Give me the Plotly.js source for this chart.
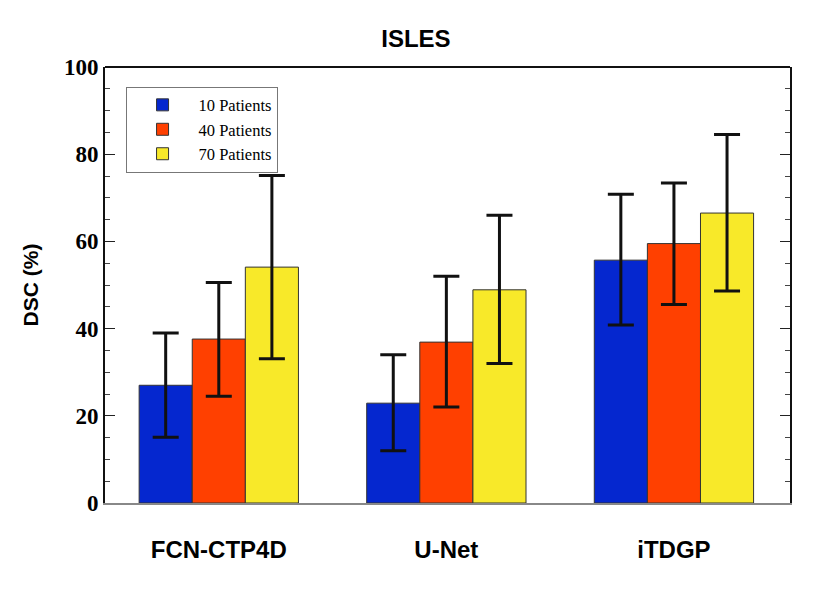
<!DOCTYPE html>
<html>
<head>
<meta charset="utf-8">
<script src="https://cdn.plot.ly/plotly-3.0.1.min.js"></script>
<style>
  body { margin: 0; background: #fff; }
  #chart { width: 814px; height: 589px; }
</style>
</head>
<body>
<div id="chart"></div>
<script>
let methods = ["FCN-CTP4D", "U-Net", "iTDGP"];
let series_names = ["10 Patients", "40 Patients", "70 Patients"];
let series_colors = ["#0527cf", "#ff4000", "#f8e929"];

// mean DSC and error bar ends (upper, lower) per method
let dsc_10 = [27.0, 22.9, 55.7];
let dsc_40 = [37.6, 36.9, 59.5];
let dsc_70 = [54.1, 48.9, 66.5];
let upper_10 = [39.0, 34.0, 70.8];
let upper_40 = [50.6, 52.0, 73.4];
let upper_70 = [75.1, 66.0, 84.5];
let lower_10 = [15.1, 12.0, 40.8];
let lower_40 = [24.5, 22.0, 45.5];
let lower_70 = [33.1, 32.0, 48.6];

function makeTrace(name, color, y, up, low) {
    let plus = [], minus = [];
    for (let i = 0; i < y.length; i++) {
        plus.push(up[i] - y[i]);
        minus.push(y[i] - low[i]);
    }
    return {
        type: "bar",
        x: methods,
        y: y,
        name: name,
        marker: { color: color, line: { color: "#333", width: 1 } },
        error_y: {
            type: "data", symmetric: false, array: plus, arrayminus: minus,
            color: "#111", thickness: 3, width: 13
        }
    };
}

let data = [
    makeTrace(series_names[0], series_colors[0], dsc_10, upper_10, lower_10),
    makeTrace(series_names[1], series_colors[1], dsc_40, upper_40, lower_40),
    makeTrace(series_names[2], series_colors[2], dsc_70, upper_70, lower_70)
];

let layout = {
    width: 814,
    height: 589,
    margin: { l: 105, r: 24, t: 67, b: 86 },
    paper_bgcolor: "#fff",
    plot_bgcolor: "#fff",
    barmode: "group",
    bargap: 0.3,
    bargroupgap: 0,
    showlegend: true,
    title: {
        text: "<b>ISLES</b>",
        font: { family: "Liberation Sans, Arial", size: 24, color: "#000" },
        x: 0.511, xanchor: "center", y: 0.935, yanchor: "middle"
    },
    legend: {
        x: 0.03, y: 0.955, xanchor: "left", yanchor: "top",
        bgcolor: "#fff", bordercolor: "#777", borderwidth: 1,
        font: { family: "Liberation Serif, Times New Roman", size: 16.5, color: "#000" },
        itemwidth: 62,
        tracegroupgap: 0
    },
    xaxis: {
        type: "category",
        range: [-0.5, 2.51],
        showline: true, linecolor: "#888", linewidth: 2,
        ticks: "",
        ticklabelstandoff: 24,
        tickfont: { family: "Liberation Sans, Arial", size: 24, color: "#000", weight: "bold" },
        showgrid: false, zeroline: false, fixedrange: true
    },
    yaxis: {
        range: [0, 100],
        tickvals: [0, 20, 40, 60, 80, 100],
        ticks: "inside", ticklen: 10, tickcolor: "#222", tickwidth: 1,
        minor: { dtick: 5, ticks: "inside", ticklen: 5, tickcolor: "#444", tickwidth: 1 },
        showline: true, linecolor: "#111", linewidth: 2, mirror: "ticks",
        showgrid: false, zeroline: false,
        tickfont: { family: "Liberation Serif, Times New Roman", size: 23, color: "#000", weight: "bold" },
        title: {
            text: "<b>DSC (%)</b>",
            font: { family: "Liberation Sans, Arial", size: 21, color: "#000" },
            standoff: 20
        },
        fixedrange: true
    },
    shapes: [
        { type: "line", xref: "paper", yref: "paper", x0: 0, x1: 1, y0: 1, y1: 1,
          line: { color: "#111", width: 2 } }
    ]
};

Plotly.newPlot("chart", data, layout, { displayModeBar: false, staticPlot: true });
</script>
</body>
</html>
